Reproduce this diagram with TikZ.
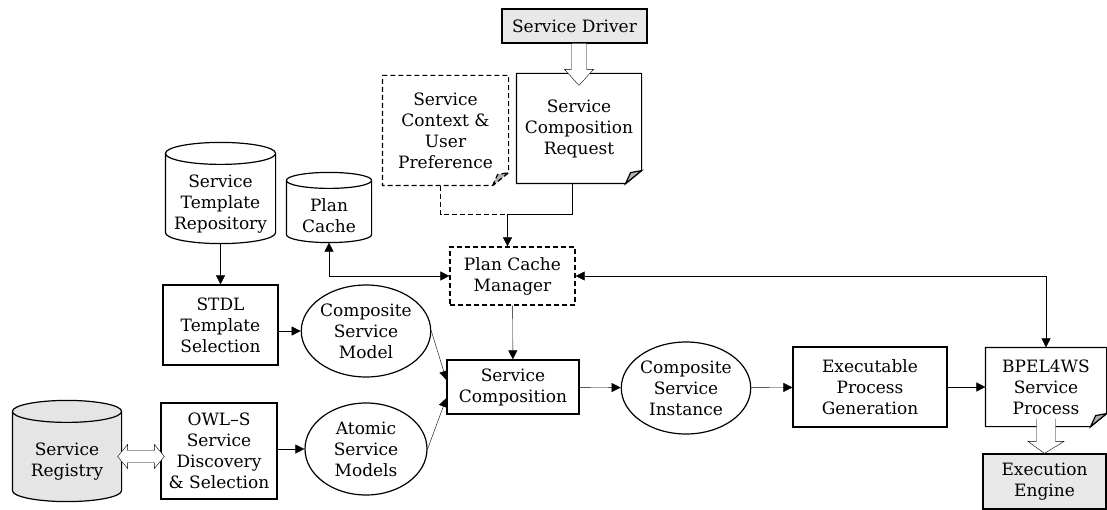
\documentclass[tikz,border=0pt]{standalone}
\usepackage{fontspec}
\setmainfont{DejaVu Serif}
\usetikzlibrary{arrows.meta,calc,shapes.geometric,backgrounds}

% drum outline round a node: #2 node, #3 cap radius
\newcommand\drum[3][]{%
  \draw[#1] let \p1=(#2.north west), \p2=(#2.south east), \n1={(\x2-\x1)/2} in
    (\x1,\y1+#3) -- (\x1,\y2+#3) arc[start angle=180,end angle=360,x radius=\n1,y radius=#3]
    -- (\x2,\y1+#3) arc[start angle=0,end angle=180,x radius=\n1,y radius=#3] -- cycle
    (\x1,\y1+#3) arc[start angle=180,end angle=360,x radius=\n1,y radius=#3];
}
% sheet with turned corner
\newcommand\sheet[2][]{%
  \draw[#1] (#2.north west) -- (#2.north east) -- ([yshift=13pt]#2.south east)
    -- ([xshift=-16pt]#2.south east) -- (#2.south west) -- cycle;
  \draw[#1, fill=black!30] ([xshift=-16pt]#2.south east) -- ([xshift=-11pt,yshift=11pt]#2.south east)
    -- ([yshift=13pt]#2.south east) -- cycle;
}
% open block arrow pointing down: from, to, half shaft, half head, head length
\newcommand\fatdown[5]{%
  \draw[fill=white] let \p1=(#1), \p2=(#2) in
    (\x1-#3,\y1) -- (\x1-#3,\y2+#5) -- (\x1-#4,\y2+#5) -- (\x2,\y2)
    -- (\x1+#4,\y2+#5) -- (\x1+#3,\y2+#5) -- (\x1+#3,\y1);
}

\tikzset{
  blk/.style={rectangle, align=center, inner sep=0pt},
  box/.style={blk, draw},
  shaded/.style={box, fill=black!9},
  broken/.style={dash pattern=on 5pt off 3pt},
  oval/.style={ellipse, draw, align=center, inner sep=0pt, minimum width=122pt, minimum height=92pt},
}

\begin{document}
\begin{tikzpicture}[x=1pt, y=1pt, line width=1.2pt, >={Triangle[length=9pt,width=9pt]},
    font=\fontsize{17}{21}\selectfont]
    \useasboundingbox (0,0) rectangle (1107,-510);
    % request side
    \node[shaded, minimum width=145pt, minimum height=34pt] (driver) at (574.5,-26) {Service Driver};
    \node[blk, minimum width=124pt, minimum height=109pt] (request) at (579,-128.5) {Service\\Composition\\Request};
    \node[blk, minimum width=125pt, minimum height=109pt] (context) at (445.5,-130.5) {Service\\Context \&\\User\\Preference};
    \node[box, broken, minimum width=125pt, minimum height=58pt] (manager) at (512.5,-276) {Plan Cache\\Manager};
    % stores
    \node[blk, minimum width=84pt, minimum height=53pt] (plancache) at (329,-215.5) {Plan\\Cache};
    \node[blk, minimum width=109pt, minimum height=78pt] (templrepo) at (220.5,-204) {Service\\Template\\Repository};
    \node[blk, minimum width=108pt, minimum height=78pt] (registry) at (67,-462) {Service\\Registry};
    % left column
    \node[box, minimum width=115pt, minimum height=80pt] (stdl) at (220.5,-325) {STDL\\Template\\Selection};
    \node[box, minimum width=116pt, minimum height=96pt] (owls) at (219,-451) {OWL--S\\Service\\Discovery\\\& Selection};
    \node[oval] (csmodel) at (366,-331) {Composite\\Service\\Model};
    \node[oval] (atomic) at (366,-449) {Atomic\\Service\\Models};
    % main row
    \node[box, minimum width=132pt, minimum height=54pt] (composition) at (513,-387) {Service\\Composition};
    \node[oval] (instance) at (686,-388) {Composite\\Service\\Instance};
    \node[box, minimum width=154pt, minimum height=80pt] (execgen) at (870,-387) {Executable\\Process\\Generation};
    \node[blk, minimum width=120pt, minimum height=78pt] (bpel) at (1046,-387) {BPEL4WS\\Service\\Process};
    \node[shaded, minimum width=123pt, minimum height=55pt] (engine) at (1044.5,-481.5) {Execution\\Engine};

    \begin{pgfonlayer}{background}
      \begin{scope}[line width=1.2pt]
        \drum{templrepo}{11pt}
        \drum{plancache}{8pt}
        \drum[fill=black!10]{registry}{11pt}
        \sheet{request}
        \sheet[broken]{context}
        \sheet{bpel}
      \end{scope}
    \end{pgfonlayer}

    % links
    \coordinate (merge) at ($(manager.north)+(-5,32)$);
    \draw ([xshift=-7pt]request.south) |- (merge);
    \draw[broken] ([xshift=-5pt]context.south) |- (merge);
    \draw[->] (merge) -- (manager.north -| merge);
    \draw[<->] (plancache.south) |- (manager.west);
    \draw[<->] (manager.east) -| (bpel.north);
    \draw[->] (manager) -- (composition);
    \draw[->] (templrepo) -- (stdl);
    \draw[->] (stdl.east |- csmodel) -- (csmodel);
    \draw[->] (owls.east |- atomic) -- (atomic);
    \draw[->] (csmodel.east) -- ([yshift=7pt]composition.west);
    \draw[->] (atomic.east) -- ([yshift=-11pt]composition.west);
    \draw[->] (composition) -- (instance);
    \draw[->] (instance) -- (execgen);
    \draw[->] (execgen) -- (bpel);

    % block arrows
    \fatdown{driver.south -| request.north}{[yshift=-12pt]request.north}{7.5pt}{14.5pt}{16pt}
    \fatdown{[yshift=8pt]bpel.south}{engine.north}{9.5pt}{18pt}{12pt}
    \draw[fill=white] let \p1=([xshift=-4pt]registry.east), \p2=([xshift=4pt]owls.west), \n1={(\y1+\y2)/2} in
        (\x1,\n1) -- (\x1+10pt,\n1+12pt) -- (\x1+10pt,\n1+6pt) -- (\x2-10pt,\n1+6pt) -- (\x2-10pt,\n1+12pt)
        -- (\x2,\n1) -- (\x2-10pt,\n1-12pt) -- (\x2-10pt,\n1-6pt) -- (\x1+10pt,\n1-6pt) -- (\x1+10pt,\n1-12pt) -- cycle;
\end{tikzpicture}
\end{document}
